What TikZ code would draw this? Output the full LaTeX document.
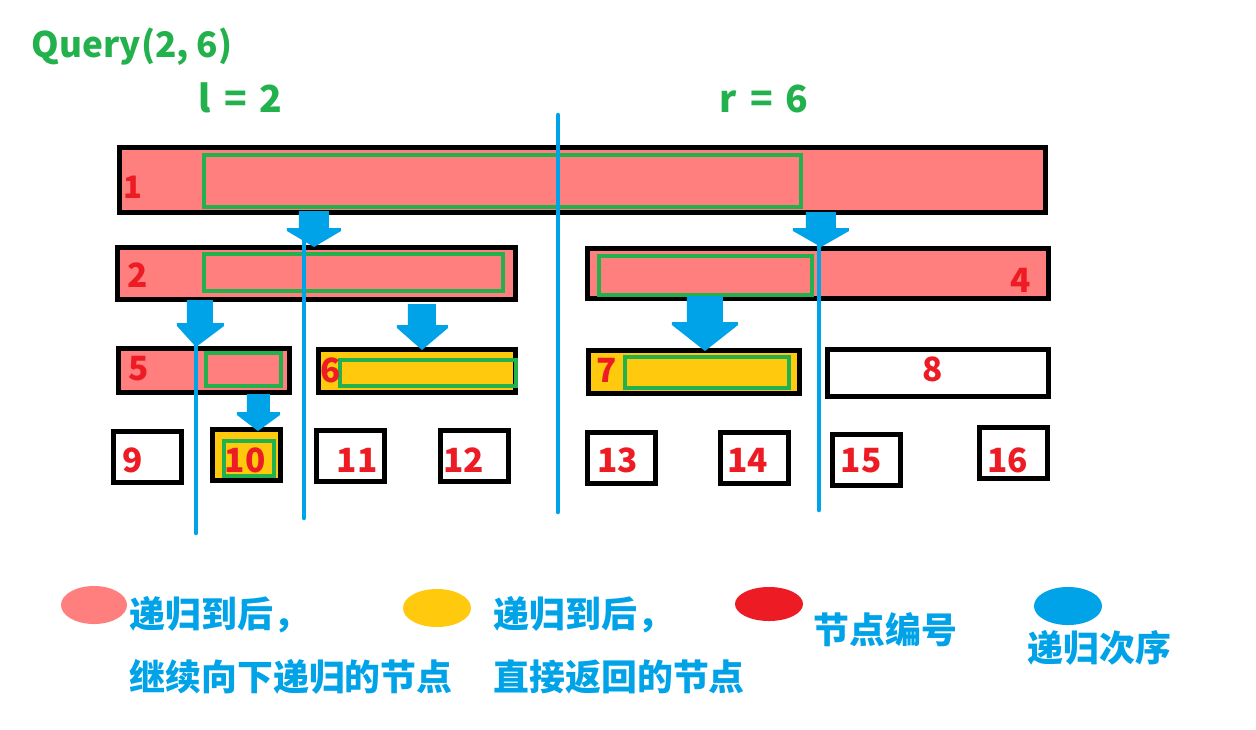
\documentclass[tikz,border=0pt]{standalone}
\usepackage{fontspec}
\setmainfont{Noto Sans CJK SC}
\definecolor{pinkc}{HTML}{FF7F7F}
\definecolor{yel}{HTML}{FFC90E}
\definecolor{grn}{HTML}{22B14C}
\definecolor{blu}{HTML}{00A2E8}
\definecolor{redc}{HTML}{ED1C24}
\newcommand\recarrow[8]{\fill[blu] (#1,#3) -- (#2,#3) -- (#2,#4) -- (#6,#4) -- (#6,#4+3) -- (#7,#8) -- (#5,#4+3) -- (#5,#4) -- (#1,#4) -- cycle;}
\newcommand\wsp{\hspace{0.35em}}
\begin{document}
\begin{tikzpicture}[x=0.01cm,y=-0.01cm,
  seg/.style={draw=black, line width=0.05cm, inner sep=0pt, outer sep=0pt},
  leaf/.style={seg, minimum width=0.68cm, minimum height=0.51cm},
  rng/.style={draw=grn, line width=0.04cm, inner sep=0pt, outer sep=0pt},
  num/.style={text=redc, font=\fontsize{9.5}{10}\selectfont\bfseries, inner sep=0pt},
  ttl/.style={text=grn, font=\fontsize{10.6}{12}\selectfont\bfseries, inner sep=0pt, anchor=base west},
  leg/.style={text=blu, font=\fontsize{10.2}{12}\selectfont\bfseries, inner sep=0pt, anchor=west},
  order/.style={draw=blu, line width=0.045cm, line cap=round}]
\useasboundingbox (0,0) rectangle (1256,729);
% title
\node[ttl, font=\fontsize{10}{12}\selectfont\bfseries] (q) at (31,57) {Query(2, 6)};
\node[ttl] (l) at (198,112) {l\wsp=\wsp2};
\node[ttl] (r) at (719,112) {r\wsp=\wsp6};
% segment tree nodes
\node[seg, fill=pinkc, minimum width=9.26cm, minimum height=0.65cm] (n1) at (582.5,180) {};
\node[rng, minimum width=5.97cm, minimum height=0.52cm] (g1) at (502.5,181) {};
\node[seg, fill=pinkc, minimum width=3.98cm, minimum height=0.52cm] (n2) at (316.5,273.5) {};
\node[rng, minimum width=2.99cm, minimum height=0.37cm] (g2) at (353.5,272.5) {};
\node[seg, fill=pinkc, minimum width=4.61cm, minimum height=0.50cm] (n4) at (818,273.5) {};
\node[rng, minimum width=2.13cm, minimum height=0.39cm] (g4) at (705.5,275.5) {};
\node[seg, fill=pinkc, minimum width=1.71cm, minimum height=0.44cm] (n5) at (204,370.5) {};
\node[rng, minimum width=0.75cm, minimum height=0.33cm] (g5) at (243.5,369.5) {};
\node[seg, fill=yel, minimum width=1.97cm, minimum height=0.43cm] (n6) at (417,371) {};
\node[rng, minimum width=1.76cm, minimum height=0.26cm] (g6) at (428,373) {};
\node[seg, fill=yel, minimum width=2.11cm, minimum height=0.43cm] (n7) at (694,372) {};
\node[rng, minimum width=1.64cm, minimum height=0.31cm] (g7) at (707,372.5) {};
\node[seg, fill=white, minimum width=2.21cm, minimum height=0.47cm] (n8) at (938,373) {};
\node[leaf, fill=white] (n9) at (147.5,457) {};
\node[leaf, fill=yel] (n10) at (246.5,455) {};
\node[rng, minimum width=0.50cm, minimum height=0.35cm] (g10) at (249,458.5) {};
\node[leaf, fill=white] (n11) at (350.5,456) {};
\node[leaf, fill=white] (n12) at (474.5,456) {};
\node[leaf, fill=white] (n13) at (621.5,458) {};
\node[leaf, fill=white] (n14) at (754.5,458) {};
\node[leaf, fill=white] (n15) at (866.5,460) {};
\node[leaf, fill=white] (n16) at (1013.5,453) {};
% node numbers
\node[num, font=\fontsize{8.8}{9}\selectfont\bfseries] (t1) at (133,187) {1};
\node[num] (t2) at (138,275) {2};
\node[num] (t4) at (1021,280.5) {4};
\node[num] (t5) at (139,369) {5};
\node[num] (t6) at (330.5,370) {6};
\node[num] (t7) at (607,370) {7};
\node[num] (t8) at (933,369.5) {8};
\node[num] (t9) at (132.5,460.5) {9};
\node[num] (t10) at (245,460) {10};
\node[num] (t11) at (357,460) {11};
\node[num] (t12) at (464,460) {12};
\node[num] (t13) at (617.5,460) {13};
\node[num] (t14) at (748,460) {14};
\node[num] (t15) at (861,461) {15};
\node[num] (t16) at (1007.5,460) {16};
% recursion order lines
\coordinate (m0) at (558,115); \coordinate (m1) at (558,512);
\coordinate (a0) at (304,228); \coordinate (a1) at (304,518);
\coordinate (b0) at (196,330); \coordinate (b1) at (196,533);
\coordinate (c0) at (819,240); \coordinate (c1) at (819,510);
\draw[order] (m0) -- (m1);
\draw[order] (a0) -- (a1);
\draw[order] (b0) -- (b1);
\draw[order] (c0) -- (c1);
% recursion order arrows
\recarrow{299}{329}{211}{228}{287}{341}{314}{247}
\recarrow{806}{836}{212}{228}{793}{849}{821}{247}
\recarrow{187}{213}{300}{323}{177}{224}{196}{347}
\recarrow{408}{436}{304}{325}{397}{448}{422}{350}
\recarrow{687}{723}{296}{322}{672}{738}{705}{351}
\recarrow{247}{270}{394}{412}{237}{280}{258}{431}
% legend
\fill[pinkc] (94,605) ellipse [x radius=0.33cm, y radius=0.19cm];
\fill[yel] (437,608) ellipse [x radius=0.34cm, y radius=0.19cm];
\fill[redc] (769,604) ellipse [x radius=0.34cm, y radius=0.17cm];
\fill[blu] (1068,606) ellipse [x radius=0.34cm, y radius=0.19cm];
\node[leg] (p1) at (129,615) {递归到后，};
\node[leg] (p2) at (129,677) {继续向下递归的节点};
\node[leg] (y1) at (493,615) {递归到后，};
\node[leg] (y2) at (493,677) {直接返回的节点};
\node[leg] (rl) at (813,630) {节点编号};
\node[leg] (bl) at (1027,648) {递归次序};
\end{tikzpicture}
\end{document}
